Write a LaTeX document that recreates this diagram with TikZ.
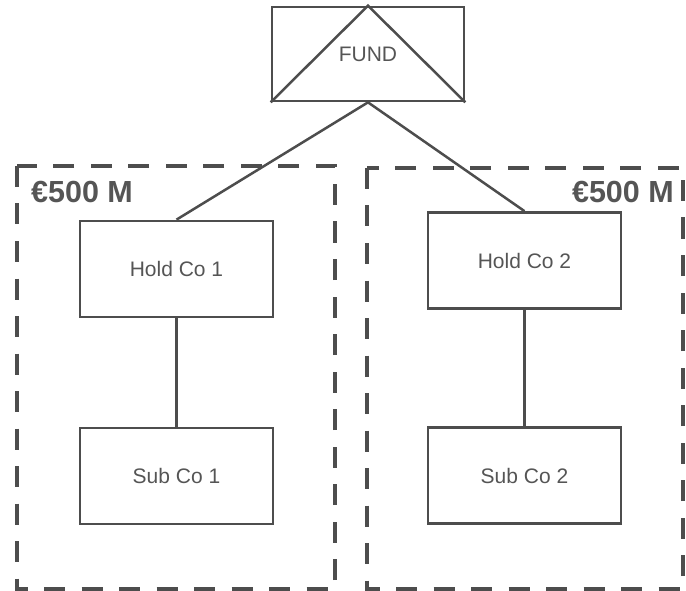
\documentclass[tikz,border=0pt]{standalone}
\usepackage{fontspec}
\setmainfont{Liberation Sans}
\usetikzlibrary{shapes.misc, arrows, shapes}

\definecolor{linegray}{RGB}{77,77,77}
\definecolor{textgray}{RGB}{85,85,85}

\tikzset{
	entity/.style={draw=linegray, line width=2.7pt, rectangle, minimum width=193pt, minimum height=96pt, inner sep=0pt, text=textgray, font=\fontsize{21}{25}\selectfont},
	group/.style={draw=linegray, line width=4.3pt, dash pattern=on 21pt off 16.5pt},
	amount/.style={inner sep=0pt, text=textgray, font=\fontsize{30.5}{36}\selectfont\bfseries},
	link/.style={draw=linegray, line width=2.5pt}
}

\begin{document}
\begin{tikzpicture}[x=1pt, y=-1pt]
	\useasboundingbox (0,0) rectangle (686,591);

	\draw[group] (17,166) rectangle (335,589);
	\draw[group] (367,168) rectangle (683,589);

	\node[amount, anchor=base west] (amt1) at (31,203) {€500 M};
	\node[amount, anchor=base east] (amt2) at (674,203) {€500 M};

	\node[entity, minimum width=192pt, minimum height=94pt] (fund) at (368,54) {FUND};
	\draw[link] (fund.south west) -- (fund.north) -- (fund.south east);

	\node[entity] (hold1) at (176.5,269) {Hold Co 1};
	\node[entity] (sub1) at (176.5,476) {Sub Co 1};
	\node[entity] (hold2) at (524.5,260.5) {Hold Co 2};
	\node[entity] (sub2) at (524.5,475.5) {Sub Co 2};

	\draw[link] (fund.south) -- (hold1.north);
	\draw[link] (fund.south) -- (hold2.north);
	\draw[link] (hold1) -- (sub1);
	\draw[link] (hold2) -- (sub2);

\end{tikzpicture}
\end{document}
